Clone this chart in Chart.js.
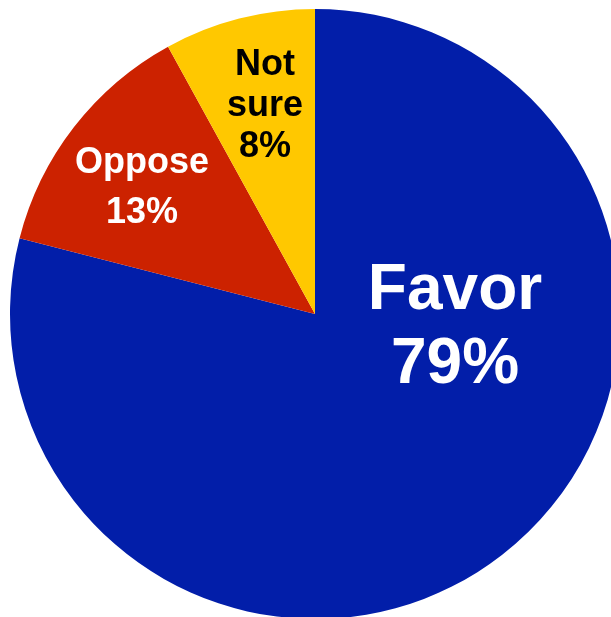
<!DOCTYPE html>
<html>
<head>
<meta charset="utf-8">
<script src="https://cdn.jsdelivr.net/npm/chart.js@4/dist/chart.umd.min.js"></script>
<style>
  html, body { margin: 0; padding: 0; background: #fff; overflow: hidden; }
  #wrap { position: absolute; left: 0; top: 0; width: 630px; height: 628px; }
</style>
</head>
<body>
<div id="wrap"><canvas id="pie"></canvas></div>
<script>
var categories = ['Favor', 'Oppose', 'Not sure']
var values = [79, 13, 8]
var label_lines = [['Favor', '79%'], ['Oppose', '13%'], ['Not', 'sure', '8%']]

var colors = ['#021EA9', '#CC2200', '#FFC800']
var text_colors = ['#ffffff', '#ffffff', '#000000']
var font_sizes = [64, 36, 36]
// label spot per slice, as fraction of radius from the centre (x, first baseline, line step)
var label_spot = [
    {x: 0.459, y: -0.016, step: 0.243},
    {x: -0.567, y: -0.462, step: 0.164},
    {x: -0.164, y: -0.784, step: 0.135}
]

var slice_labels = {
    id: 'slice_labels',
    afterDatasetsDraw: function (chart) {
        var ctx = chart.ctx
        var arcs = chart.getDatasetMeta(0).data
        ctx.save()
        ctx.textAlign = 'center'
        ctx.textBaseline = 'alphabetic'
        for (let i = 0; i < arcs.length; i++) {
            let arc = arcs[i]
            let r = arc.outerRadius
            let spot = label_spot[i]
            ctx.fillStyle = text_colors[i]
            ctx.font = 'bold ' + font_sizes[i] + 'px "Liberation Sans", Arial, sans-serif'
            for (let j = 0; j < label_lines[i].length; j++) {
                ctx.fillText(label_lines[i][j], arc.x + spot.x * r, arc.y + (spot.y + j * spot.step) * r)
            }
        }
        ctx.restore()
    }
}

var ctx = document.getElementById('pie').getContext('2d')
var chart = new Chart(ctx, {
    type: 'pie',
    data: {
        labels: categories,
        datasets: [{
            data: values,
            backgroundColor: colors,
            borderWidth: 0
        }]
    },
    options: {
        responsive: true,
        maintainAspectRatio: false,
        animation: false,
        layout: { padding: 9 },
        plugins: {
            legend: { display: false },
            tooltip: { enabled: false }
        }
    },
    plugins: [slice_labels]
})
</script>
</body>
</html>
